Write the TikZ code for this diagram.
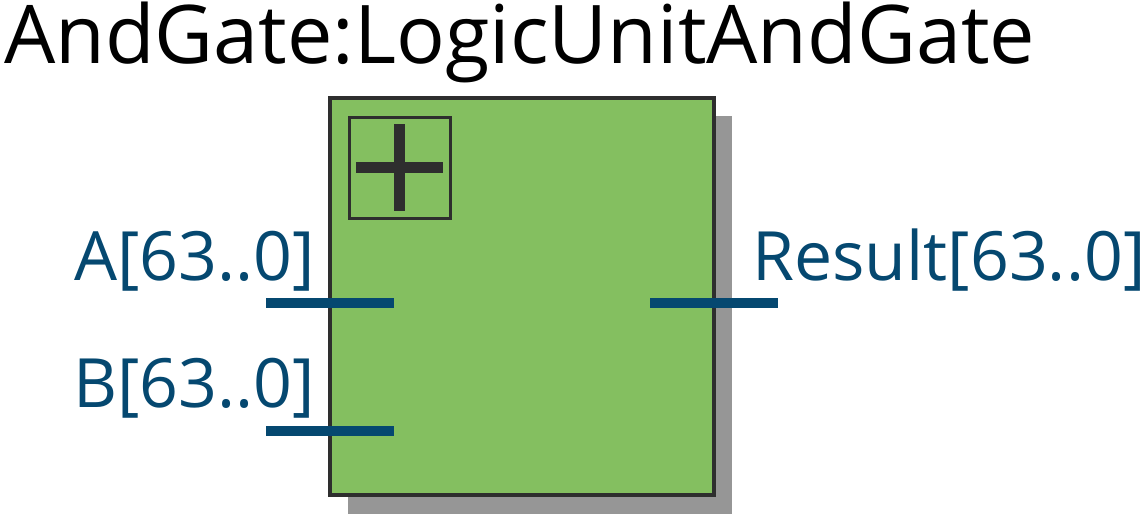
\documentclass[tikz,border=0pt]{standalone}
\usepackage{fontspec}
\setmainfont{Open Sans}
\definecolor{blockgreen}{RGB}{132,191,96}
\definecolor{shadowgray}{RGB}{150,150,150}
\definecolor{edgegray}{RGB}{46,46,46}
\definecolor{portblue}{RGB}{5,72,112}
\tikzset{
  block/.style={rectangle, draw=edgegray, fill=blockgreen, line width=4pt, inner sep=0pt},
  blockshadow/.style={rectangle, fill=shadowgray, inner sep=0pt},
  iconbox/.style={rectangle, draw=edgegray, line width=3pt, inner sep=0pt, minimum width=101pt, minimum height=101pt},
  plusbar/.style={draw=edgegray, line width=10.5pt},
  portline/.style={draw=portblue, line width=10pt},
  portlabel/.style={text=portblue, inner sep=0pt, font=\fontsize{68}{80}\selectfont},
  titlelabel/.style={text=black, inner sep=0pt, font=\fontsize{81}{96}\selectfont}
}
\begin{document}
\begin{tikzpicture}[x=1pt, y=-1pt]
\useasboundingbox (0,0) rectangle (1146,514);
% shadow and block
\node[blockshadow, minimum width=384pt, minimum height=398pt] (shadow) at (540,315) {};
\node[block, minimum width=384pt, minimum height=397pt] (blk) at (522,296.5) {};
% icon
\node[iconbox] (icon) at (399.5,167.5) {};
\coordinate (pl) at (356,167.5);
\coordinate (pr) at (443,167.5);
\coordinate (pt) at (399.5,124);
\coordinate (pb) at (399.5,211);
\draw[plusbar] (pl) -- (pr);
\draw[plusbar] (pt) -- (pb);
% title
\node[titlelabel, anchor=base west] (title) at (4,63.3) {AndGate:LogicUnitAndGate};
% ports
\coordinate (a0) at (266,303);
\coordinate (a1) at (394,303);
\coordinate (b0) at (266,431);
\coordinate (b1) at (394,431);
\coordinate (r0) at (650,303);
\coordinate (r1) at (778,303);
\draw[portline] (a0) -- (a1);
\draw[portline] (b0) -- (b1);
\draw[portline] (r0) -- (r1);
\node[portlabel, anchor=base east] (la) at (315,280) {A[63..0]};
\node[portlabel, anchor=base east] (lb) at (315,407) {B[63..0]};
\node[portlabel, anchor=base west] (lr) at (752,280) {Result[63..0]};
\end{tikzpicture}
\end{document}
